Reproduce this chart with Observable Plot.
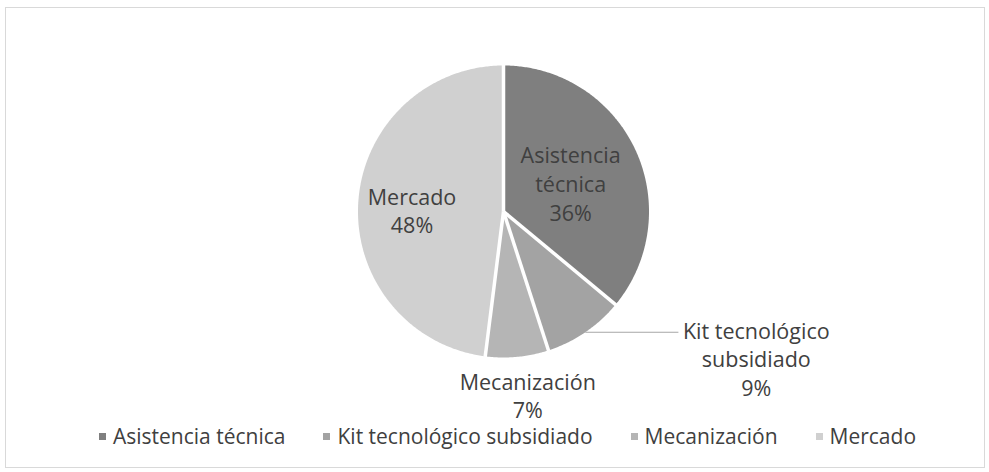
<!DOCTYPE html>
<html><head><meta charset="utf-8">
<script src="https://cdn.jsdelivr.net/npm/d3@7"></script>
<script src="https://cdn.jsdelivr.net/npm/@observablehq/plot@0.6"></script>
<style>
body{margin:0;background:#fff;font-family:"Open Sans","Noto Sans",sans-serif;}
#wrap{position:relative;width:989px;height:472px;overflow:hidden;}
#frame{position:absolute;left:5px;top:7px;width:980px;height:461px;border:1px solid #d9d9d9;box-sizing:border-box;}
#chart{position:absolute;left:0;top:0;}
#legend{position:absolute;left:99px;top:422px;display:flex;align-items:center;font-size:21px;color:#404040;white-space:nowrap;}
#legend .item{display:flex;align-items:center;margin-right:38px;}
#legend .sw{width:7px;height:7px;margin-right:7px;}
</style></head>
<body><div id="wrap"><div id="frame"></div><div id="chart"></div><div id="legend"></div></div>
<script>
const categories = ["Asistencia técnica", "Kit tecnológico subsidiado", "Mecanización", "Mercado"];
const values = [36, 9, 7, 48];
const labelLines = ["Asistencia\ntécnica", "Kit tecnológico\nsubsidiado", "Mecanización", "Mercado"];

const palette = ["#7f7f7f", "#a3a3a3", "#b5b5b5", "#d0d0d0"];
const textColor = "#404040";
const font = "Open Sans";

const data = categories.map((c, i) => ({name: c, value: values[i], label: labelLines[i], color: palette[i]}));
const total = d3.sum(values);
const arcs = d3.pie().sort(null).value(d => d.value)(data);
const pt = (a, r) => ({x: r * Math.sin(a), y: r * Math.cos(a)});

const slices = arcs.map(a => {
  const n = Math.max(2, Math.ceil((a.endAngle - a.startAngle) / 0.01));
  const pts = [pt(0, 0)];
  for (let k = 0; k <= n; k++) pts.push(pt(a.startAngle + (a.endAngle - a.startAngle) * k / n, 1));
  pts.push(pt(0, 0));
  return {pts, color: a.data.color};
});

const seps = arcs.map(a => ({x1: 0, y1: 0, x2: pt(a.startAngle, 1.005).x, y2: pt(a.startAngle, 1.005).y}));

const place = {
  "Asistencia técnica": {r: 0.51, dx: 0, dy: 3},
  "Kit tecnológico subsidiado": {r: 1.0, outside: true, leader: 0.64, dx: 171, dy: 26},
  "Mecanización": {r: 1.26, dx: 7, dy: 0},
  "Mercado": {r: 0.63, dx: 0, dy: 4}
};
const labels = [], leaders = [];
arcs.forEach(a => {
  const c = place[a.data.name];
  const p = pt((a.startAngle + a.endAngle) / 2, c.r);
  const pct = Math.round(a.data.value / total * 100) + "%";
  labels.push({x: p.x, y: p.y, text: a.data.label + "\n" + pct, dx: c.dx, dy: c.dy});
  if (c.outside) leaders.push({x1: p.x, y1: p.y, x2: p.x + c.leader, y2: p.y});
});

const chart = Plot.plot({
  width: 989, height: 472, margin: 0,
  x: {domain: [-1, 1], range: [357.5, 648.5], axis: null},
  y: {domain: [-1, 1], range: [357, 65], axis: null},
  style: {background: "transparent", overflow: "visible"},
  marks: [
    ...slices.map(s => Plot.line(s.pts, {x: "x", y: "y", fill: s.color, stroke: "none"})),
    Plot.link(seps, {x1: "x1", y1: "y1", x2: "x2", y2: "y2", stroke: "white", strokeWidth: 3.5}),
    Plot.link(leaders, {x1: "x1", y1: "y1", x2: "x2", y2: "y2", stroke: "#a6a6a6", strokeWidth: 1.2}),
    ...labels.map(l => Plot.text([l], {x: "x", y: "y", text: "text", dx: l.dx, dy: l.dy, fill: textColor,
      fontSize: 21.5, lineHeight: 1.33, textAnchor: "middle", fontFamily: font}))
  ]
});
document.getElementById("chart").appendChild(chart);

const legend = document.getElementById("legend");
data.forEach(d => {
  const it = document.createElement("div"); it.className = "item";
  const sw = document.createElement("span"); sw.className = "sw"; sw.style.background = d.color;
  const tx = document.createElement("span"); tx.textContent = d.name;
  it.appendChild(sw); it.appendChild(tx); legend.appendChild(it);
});
</script></body></html>
